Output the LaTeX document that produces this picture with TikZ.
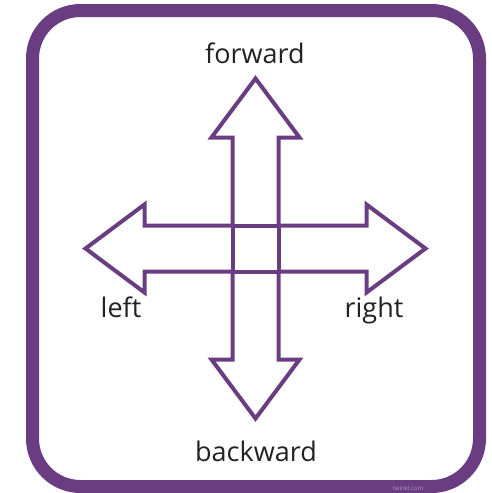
\documentclass[tikz,border=0pt]{standalone}
\usepackage{fontspec}
\setmainfont{Open Sans}
\definecolor{framepurple}{RGB}{106,61,130}
\definecolor{labelgrey}{RGB}{34,34,34}
\begin{document}
\begin{tikzpicture}[x=1pt, y=-1pt,
    arrowline/.style = {draw = framepurple, line width = 4pt, miter limit = 10},
    dirlabel/.style = {text = labelgrey, font = \fontsize{27}{31}\selectfont, inner sep = 0pt}]
  \useasboundingbox (0,0) rectangle (491,493);
  % outer frame
  \draw [framepurple, line width = 13pt, rounded corners = 48pt]
    (32.5,10.5) rectangle (479.5,486.5);
  \node [text = framepurple!55, font = \fontsize{6}{7}\selectfont, inner sep = 0pt]
    (mark) at (408,488) {twinkl.com};
  % four arrows round the middle square
  \begin{scope}[shift = {(255.5,248.5)}]
    \foreach \a in {0,90,180,270}
      \draw [arrowline, rotate = \a]
        (-23,-23) -- (-23,-111) -- (-44,-111) -- (0,-170)
        -- (44,-111) -- (23,-111) -- (23,-23);
    \draw [arrowline] (-23,-23) rectangle (23,23);
  \end{scope}
  \node [dirlabel, anchor = base] (forward) at (255,63) {forward};
  \node [dirlabel, anchor = base] (backward) at (256,461) {backward};
  \node [dirlabel, anchor = base] (left) at (121,317) {left};
  \node [dirlabel, anchor = base] (right) at (374,317) {right};
\end{tikzpicture}
\end{document}
